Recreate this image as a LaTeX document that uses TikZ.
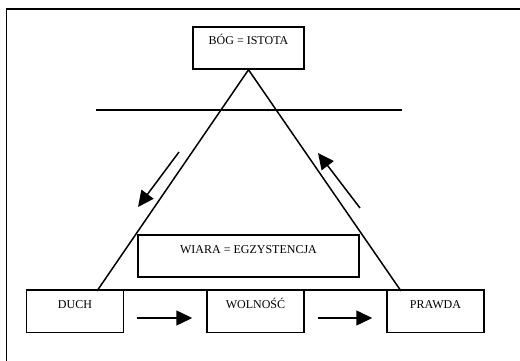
\documentclass[tikz,border=0pt]{standalone}
\usepackage{fontspec}
\setmainfont{Liberation Serif}
\usepackage{tikz}
\usetikzlibrary{arrows.meta}
\usetikzlibrary{positioning, calc}

\tikzset{
    box/.style={draw, line width=1.5pt, inner xsep=0pt, inner ysep=10pt,
        text height=8pt, text depth=14pt, font=\fontsize{12}{14}\selectfont},
    arr/.style={line width=1.5pt, -{Triangle[length=16pt,width=15pt]}},
    edge/.style={line width=1.5pt}
}

\begin{document}
\begin{tikzpicture}[x=1pt, y=-1pt]
\useasboundingbox (0,0) rectangle (520,361);

% frame
\draw[edge] (6.5,361) -- (6.5,9) -- (520,9);

\node[box, minimum width=111pt] (bog) at (248.5, 48) {BÓG = ISTOTA};
\node[box, minimum width=221pt] (wiara) at (248.5, 256) {WIARA = EGZYSTENCJA};

\foreach \n/\x/\t in {
    duch/75/DUCH, wolnosc/255.5/WOLNOŚĆ, prawda/435.5/PRAWDA}
    \node[box, minimum width=97pt] (\n) at (\x, 311.5) {\t};

\coordinate (lf) at (97, 291);
\coordinate (rf) at (401, 291);
\coordinate (h1) at (96, 110);
\coordinate (h2) at (402, 110);

\draw[edge] (lf) -- (bog.south) -- (rf);
\draw[edge] (duch.north west) -- (prawda.north east);
\draw[edge] (h1) -- (h2);

\coordinate (la) at (179, 152);
\coordinate (lb) at (138, 207);
\coordinate (ra) at (360, 208);
\coordinate (rb) at (318, 153);

\draw[arr] (la) -- (lb);
\draw[arr] (ra) -- (rb);

\draw[arr, shorten <=13pt, shorten >=14pt] ([yshift=-6.5pt]duch.east) -- ([yshift=-6.5pt]wolnosc.west);
\draw[arr, shorten <=13pt, shorten >=14pt] ([yshift=-6.5pt]wolnosc.east) -- ([yshift=-6.5pt]prawda.west);

\end{tikzpicture}
\end{document}
